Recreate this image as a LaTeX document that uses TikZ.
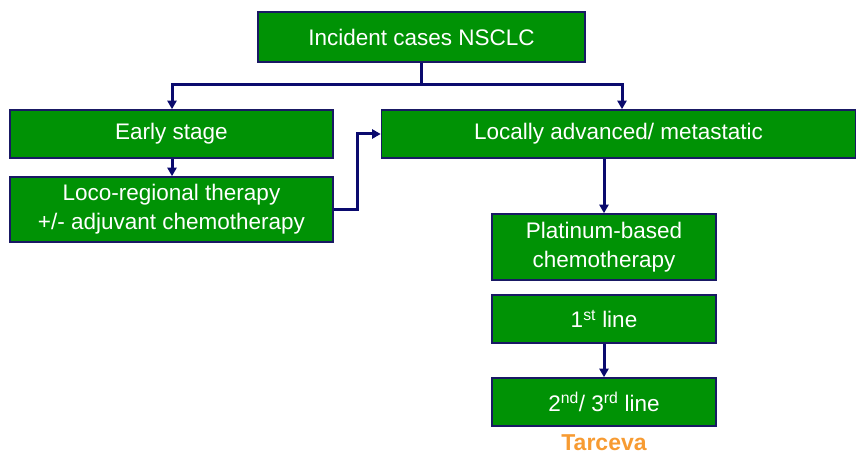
\documentclass[tikz,border=0pt]{standalone}
\usepackage{fontspec}
\setmainfont{Liberation Sans}
\usetikzlibrary{arrows.meta}
\definecolor{boxgreen}{RGB}{0,146,5}
\definecolor{boxborder}{RGB}{25,25,100}
\definecolor{linenavy}{RGB}{10,10,110}
\definecolor{tarorange}{RGB}{247,155,50}
\begin{document}
\begin{tikzpicture}[x=1pt,y=-1pt,
  gbox/.style={draw=boxborder,line width=1.6pt,fill=boxgreen,text=white,
    font=\fontsize{22.5}{29}\selectfont,align=center,inner sep=0pt},
  conn/.style={draw=linenavy,line width=3pt},
  arr/.style={conn,-{Triangle[length=8.5pt,width=9pt]}}]
\useasboundingbox (0,0) rectangle (856,457);
\node[gbox,minimum width=327pt,minimum height=50pt] (top) at (421.5,37) {Incident cases NSCLC};
\node[gbox,minimum width=323pt,minimum height=48pt] (early) at (171.5,134) {Early stage};
\node[gbox,minimum width=323pt,minimum height=65pt] (loco) at (171.5,209.5) {Loco-regional therapy\\+/- adjuvant chemotherapy};
\node[gbox,minimum width=474pt,minimum height=48pt] (adv) at (618.5,134) {Locally advanced/ metastatic};
\node[gbox,minimum width=224pt,minimum height=66pt] (plat) at (604,247) {Platinum-based\\chemotherapy};
\node[gbox,minimum width=224pt,minimum height=48pt] (first) at (604,319) {1\textsuperscript{st} line};
\node[gbox,minimum width=224pt,minimum height=48pt] (second) at (604,402) {2\textsuperscript{nd}/ 3\textsuperscript{rd} line};
\node[text=tarorange,inner sep=0pt,font=\fontsize{23}{26}\selectfont\bfseries] (tar) at (604,443) {Tarceva};
\coordinate (j) at (421.5,85);
\coordinate (jl) at (172,85);
\coordinate (jr) at (622,85);
\draw[conn] (top.south) -- (j);
\draw[arr] (j) -- (jl) -- (early.north -| jl);
\draw[arr] (j) -- (jr) -- (adv.north -| jr);
\draw[arr] (early.south -| jl) -- (loco.north -| jl);
\coordinate (m) at (357,209.5);
\draw[arr] (loco.east) -- (m) -- (m |- adv.west) -- (adv.west);
\draw[arr] (adv.south -| plat.north) -- (plat.north);
\draw[arr] (first.south) -- (second.north);
\end{tikzpicture}
\end{document}
